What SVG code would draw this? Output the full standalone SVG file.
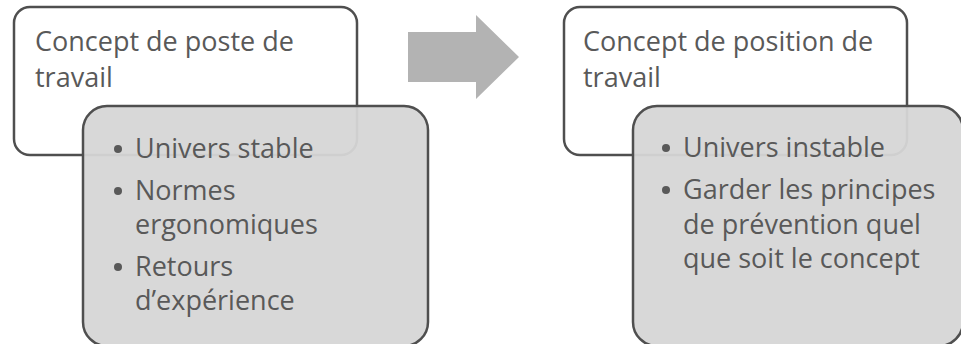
<svg xmlns="http://www.w3.org/2000/svg" width="961" height="344" viewBox="0 0 961 344">
  <style>
    .frame { fill: #ffffff; stroke: #4f4f4f; stroke-width: 2.5; }
    .detail { fill: #d6d6d6; fill-opacity: 0.95; stroke: #4f4f4f; stroke-width: 2.5; }
    .label { font-family: "Open Sans", "Liberation Sans", sans-serif; font-size: 27px; fill: #595959; }
    .dot { fill: #595959; }
    .arrow { fill: #b3b3b3; }
  </style>

  <!-- Left concept -->
  <g id="poste">
    <rect class="frame" x="14" y="7" width="343" height="148" rx="16"/>
    <text class="label" x="35" y="51">Concept de poste de</text>
    <text class="label" x="35" y="87">travail</text>
  </g>
  <g id="poste-details">
    <rect class="detail" x="83" y="106" width="345" height="240" rx="24"/>
    <circle class="dot" cx="118" cy="149" r="4"/>
    <text class="label" x="135" y="158">Univers stable</text>
    <circle class="dot" cx="118" cy="191" r="4"/>
    <text class="label" x="135" y="200">Normes</text>
    <text class="label" x="135" y="234">ergonomiques</text>
    <circle class="dot" cx="118" cy="267" r="4"/>
    <text class="label" x="135" y="276">Retours</text>
    <text class="label" x="135" y="310">d’expérience</text>
  </g>

  <!-- Transition arrow -->
  <g id="connectors">
    <polygon class="arrow" points="408,32 476,32 476,15 519,57 476,99 476,82 408,82"/>
  </g>

  <!-- Right concept -->
  <g id="position">
    <rect class="frame" x="564" y="7" width="343" height="148" rx="16"/>
    <text class="label" x="583" y="51">Concept de position de</text>
    <text class="label" x="583" y="87">travail</text>
  </g>
  <g id="position-details">
    <rect class="detail" x="633" y="106" width="330" height="240" rx="24"/>
    <circle class="dot" cx="666" cy="148" r="4"/>
    <text class="label" x="683" y="157">Univers instable</text>
    <circle class="dot" cx="666" cy="190" r="4"/>
    <text class="label" x="683" y="199">Garder les principes</text>
    <text class="label" x="683" y="234">de prévention quel</text>
    <text class="label" x="683" y="268">que soit le concept</text>
  </g>
</svg>
